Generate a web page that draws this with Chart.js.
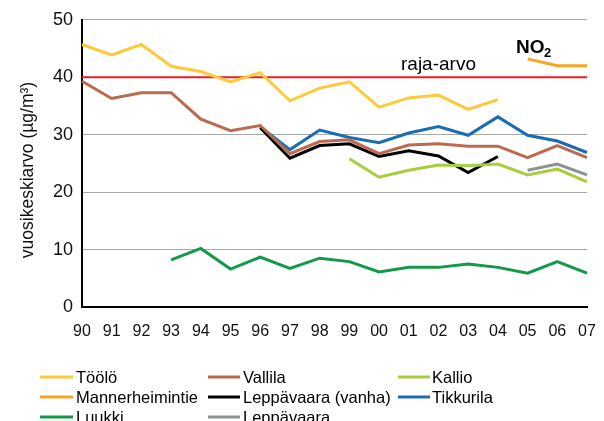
<!DOCTYPE html>
<html>
<head>
<meta charset="utf-8">
<script src="https://cdn.jsdelivr.net/npm/chart.js@4"></script>
<style>
  html, body { margin: 0; padding: 0; background: #fff; }
  #wrap { width: 604px; height: 421px; }
</style>
</head>
<body>
<div id="wrap"><canvas id="chart_no2"></canvas></div>
<script>
// vuodet
var years = ['90','91','92','93','94','95','96','97','98','99','00','01','02','03','04','05','06','07'];

// vuosikeskiarvot (µg/m3), null = ei mittausta
var toolo     = [45.7, 43.9, 45.7, 41.9, 41.0, 39.2, 40.8, 35.9, 38.1, 39.2, 34.8, 36.4, 36.9, 34.4, 36.1, null, null, null];
var vallila   = [39.3, 36.3, 37.3, 37.3, 32.7, 30.7, 31.6, 26.7, 28.8, 29.1, 26.7, 28.2, 28.4, 28.0, 28.0, 26.0, 28.1, 26.0];
var kallio    = [null, null, null, null, null, null, null, null, null, 25.8, 22.6, 23.8, 24.7, 24.6, 24.9, 23.0, 24.0, 21.8];
var mannerh   = [null, null, null, null, null, null, null, null, null, null, null, null, null, null, null, 43.2, 42.0, 42.0];
var leppvanha = [null, null, null, null, null, null, 31.2, 25.9, 28.1, 28.4, 26.2, 27.2, 26.3, 23.4, 26.2, null, null, null];
var tikkurila = [null, null, null, null, null, null, 31.4, 27.4, 30.8, 29.5, 28.6, 30.3, 31.4, 29.9, 33.1, 29.9, 28.9, 26.9];
var luukki    = [null, null, null, 8.2, 10.2, 6.6, 8.7, 6.7, 8.5, 7.9, 6.1, 6.9, 6.9, 7.5, 6.9, 5.9, 7.9, 5.9];
var leppavaara= [null, null, null, null, null, null, null, null, null, null, null, null, null, null, null, 23.8, 24.9, 23.0];
var rajaArvo = 40;

var yTicks = [0, 10, 20, 30, 40, 50];

var fontti = '"Liberation Sans", Arial, sans-serif';

function sarja(label, data, color) {
  return {
    label: label,
    data: data,
    borderColor: color,
    backgroundColor: color,
    borderWidth: 3,
    pointRadius: 0,
    tension: 0,
    spanGaps: false
  }
}

var sarjat = [
  sarja('Töölö', toolo, '#ffc93a'),
  sarja('Vallila', vallila, '#b96b4c'),
  sarja('Kallio', kallio, '#a9cd3d'),
  sarja('Mannerheimintie', mannerh, '#f7a525'),
  sarja('Leppävaara (vanha)', leppvanha, '#000000'),
  sarja('Tikkurila', tikkurila, '#1a6cb4'),
  sarja('Luukki', luukki, '#129a48'),
  sarja('Leppävaara', leppavaara, '#8c9396')
];

var raja = {
  label: 'raja-arvo',
  data: years.map(function () { return rajaArvo }),
  borderColor: '#ee1c25',
  borderWidth: 2,
  pointRadius: 0
};

// oma selite kolmeen sarakkeeseen + y-akselin otsikko
var selite = {
  id: 'selite',
  afterDraw: function (chart) {
    var ctx = chart.ctx;
    var cols = [[40, 73, 76], [208, 240, 243], [398, 430, 432]];
    var rows = [377, 397, 417];
    ctx.save();
    ctx.font = '16.5px ' + fontti;
    ctx.textBaseline = 'middle';
    ctx.fillStyle = '#000';
    sarjat.forEach(function (s, i) {
      var c = cols[i % 3], y = rows[Math.floor(i / 3)];
      ctx.strokeStyle = s.borderColor;
      ctx.lineWidth = 3;
      ctx.beginPath();
      ctx.moveTo(c[0], y);
      ctx.lineTo(c[1], y);
      ctx.stroke();
      ctx.fillText(s.label, c[2], y + 1);
    });
    // tekstit kaavioon
    var xs = chart.scales.x, ys = chart.scales.y;
    ctx.textAlign = 'center';
    ctx.font = '19px ' + fontti;
    ctx.fillText('raja-arvo', xs.getPixelForValue(12), ys.getPixelForValue(42.2));
    ctx.font = 'bold 19px ' + fontti;
    ctx.textAlign = 'left';
    var nx = 516, ny = ys.getPixelForValue(45.1);
    ctx.fillText('NO', nx, ny);
    ctx.font = 'bold 13px ' + fontti;
    ctx.fillText('2', nx + 28, ny + 5);

    ctx.translate(28, 170);
    ctx.rotate(-Math.PI / 2);
    ctx.textAlign = 'center';
    ctx.font = '17.5px ' + fontti;
    ctx.fillStyle = '#111';
    ctx.fillText('vuosikeskiarvo (µg/m³)', 0, 0);
    ctx.restore();
  }
};

const canvas = document.getElementById('chart_no2');

var cha = new Chart(canvas, {
  type: 'line',
  data: {
    labels: years,
    datasets: sarjat.concat([raja])
  },
  options: {
    responsive: true,
    maintainAspectRatio: false,
    animation: false,
    layout: { padding: { top: 19, right: 17, left: 0, bottom: 0 } },
    plugins: {
      legend: { display: false },
      tooltip: { enabled: false }
    },
    scales: {
      x: {
        offset: false,
        grid: { display: false },
        border: { display: true, color: '#000', width: 2 },
        ticks: {
          color: '#111',
          font: { size: 16, family: fontti },
          maxRotation: 0,
          autoSkip: false,
          padding: 7
        },
        afterFit: function (scale) { scale.height = 114 }
      },
      y: {
        min: 0,
        max: 50,
        afterBuildTicks: function (scale) {
          scale.ticks = yTicks.map(function (v) { return { value: v } })
        },
        grid: { color: '#a5a9ab', lineWidth: 1, drawTicks: false },
        border: { display: true, color: '#000', width: 2 },
        ticks: {
          color: '#111',
          font: { size: 18, family: fontti },
          padding: 9
        },
        afterFit: function (scale) { scale.width = 82 }
      }
    }
  },
  plugins: [selite]
});
</script>
</body>
</html>
